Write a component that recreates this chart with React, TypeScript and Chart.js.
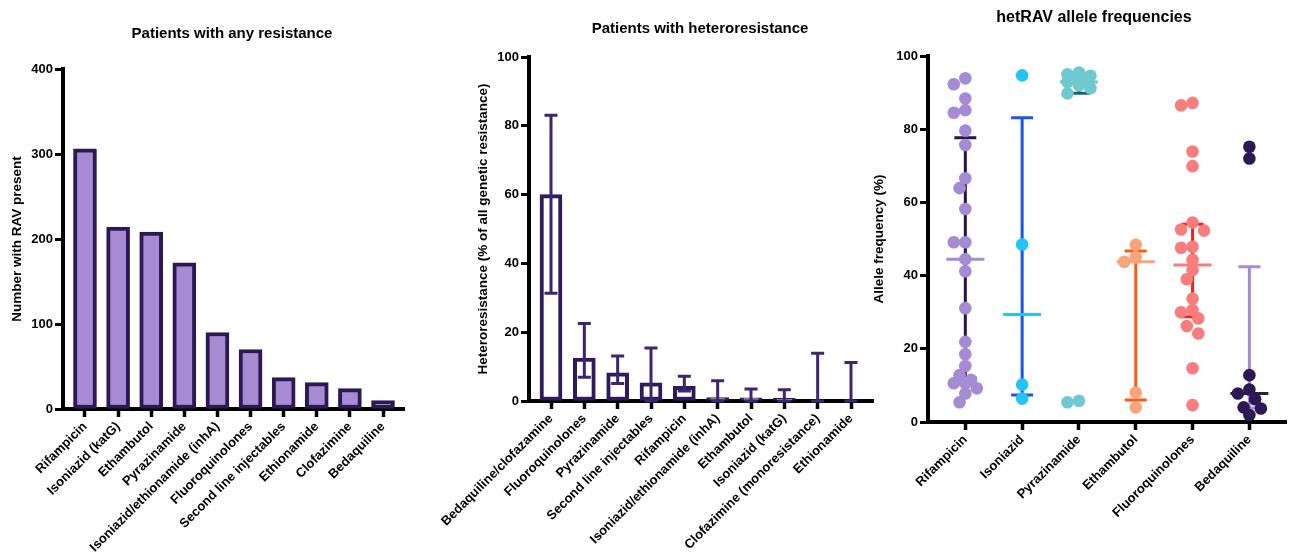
import React, { useEffect, useRef } from "react";
import { Chart, registerables } from "chart.js";

Chart.register(...registerables);

// ---------- Data ----------
const resistCats = [
  "Rifampicin",
  "Isoniazid (katG)",
  "Ethambutol",
  "Pyrazinamide",
  "Isoniazid/ethionamide (inhA)",
  "Fluoroquinolones",
  "Second line injectables",
  "Ethionamide",
  "Clofazimine",
  "Bedaquiline",
];
const resistCounts = [306, 214, 208, 172, 90, 70, 37, 31, 24, 10];
const resistTicks = [0, 100, 200, 300, 400];

const heteroCats = [
  "Bedaquiline/clofazamine",
  "Fluoroquinolones",
  "Pyrazinamide",
  "Second line injectables",
  "Rifampicin",
  "Isoniazid/ethionamide (inhA)",
  "Ethambutol",
  "Isoniazid (katG)",
  "Clofazimine (monoresistance)",
  "Ethionamide",
];
const heteroPct = [60, 12.5, 8.2, 5.3, 4.3, 1.0, 0.9, 0.8, 0, 0];
const heteroLow = [31.3, 6.9, 5.1, 0, 2.9, 0, 0, 0, 0, 0];
const heteroHigh = [83.1, 22.5, 13.1, 15.4, 7.2, 5.9, 3.5, 3.3, 13.9, 11.2];

const alleleCats = ["Rifampicin", "Isoniazid", "Pyrazinamide", "Ethambutol", "Fluoroquinolones", "Bedaquiline"];
const rifampicinAF = [93.9, 92.3, 88.4, 85.2, 84.5, 79.6, 75.7, 66.6, 63.9, 58.2, 49.1, 49.1, 44.5, 41.2, 31.1, 21.9, 18.5, 15.3, 12.8, 11.5, 10.6, 10.6, 9.2, 7.8, 5.4];
const isoniazidAF = [94.7, 48.5, 10.2, 6.4];
const pyrazinamideAF = [95.5, 95.0, 94.6, 94.2, 93.6, 92.9, 92.0, 91.2, 89.8, 5.8, 5.4];
const ethambutolAF = [48.4, 45.0, 43.8, 8.0, 4.0];
const fluoroquinolonesAF = [87.2, 86.5, 73.9, 69.9, 54.5, 52.6, 52.3, 47.9, 47.6, 44.3, 41.5, 39.0, 33.7, 30.6, 30.0, 28.3, 26.2, 24.2, 14.7, 4.6];
const bedaquilineAF = [75.2, 72.0, 12.8, 8.9, 7.8, 6.2, 4.0, 3.7, 1.9];
const alleleGroups = [rifampicinAF, isoniazidAF, pyrazinamideAF, ethambutolAF, fluoroquinolonesAF, bedaquilineAF];

// ---------- Styles ----------
const FONT = "'Liberation Sans', Arial, Helvetica, sans-serif";
const pointColors = ["#a48bd3", "#22c5f5", "#6fc9ce", "#f9a47b", "#f97d7d", "#2c1852"];
const errColors = ["#26154a", "#1a55e6", "#0b6a77", "#ff5a14", "#ff1a1a", "#a48bd3"];

function quantile(values: number[], p: number) {
  const s = [...values].sort((a, b) => a - b);
  const n = s.length;
  const pos = p * (n + 1);
  if (pos <= 1) return s[0];
  if (pos >= n) return s[n - 1];
  const lo = Math.floor(pos);
  const f = pos - lo;
  return s[lo - 1] + f * (s[lo] - s[lo - 1]);
}

function axisY(min: number, max: number, step: number, title: string, width: number, titlePad: number) {
  return {
    type: "linear",
    min,
    max,
    afterFit: (s: any) => {
      s.width = width;
    },
    ticks: { stepSize: step, color: "#000", padding: 2, font: { family: FONT, size: 13, weight: "bold" } },
    grid: { drawOnChartArea: false, drawTicks: true, tickLength: 8, tickWidth: 3, tickColor: "#000", color: "#000" },
    border: { display: true, color: "#000", width: 4 },
    title: {
      display: true,
      text: title,
      color: "#000",
      font: { family: FONT, size: 13.5, weight: "bold" },
      padding: { top: titlePad, bottom: 0 },
    },
  };
}

function axisX(cats: string[], min: number, max: number, height: number) {
  return {
    type: "linear",
    min,
    max,
    offset: false,
    afterFit: (s: any) => {
      s.height = height;
    },
    afterBuildTicks: (s: any) => {
      s.ticks = cats.map((_, i) => ({ value: i }));
    },
    ticks: {
      autoSkip: false,
      minRotation: 45,
      maxRotation: 45,
      padding: 2,
      color: "#000",
      font: { family: FONT, size: 13, weight: "bold" },
      callback: (v: any) => cats[v] ?? "",
    },
    grid: {
      offset: false,
      drawOnChartArea: false,
      drawTicks: true,
      tickLength: 8,
      tickWidth: 3.5,
      tickColor: "#000",
      color: "#000",
    },
    border: { display: true, color: "#000", width: 4 },
  };
}

const errorBarPlugin = {
  id: "heteroErrors",
  afterDatasetsDraw(chart: any) {
    const { ctx, scales } = chart;
    const xs = scales.x;
    const ys = scales.y;
    ctx.save();
    ctx.strokeStyle = "#3a2770";
    ctx.lineWidth = 3;
    ctx.lineCap = "butt";
    heteroHigh.forEach((hi, i) => {
      const x = xs.getPixelForValue(i);
      const yh = ys.getPixelForValue(hi);
      const yl = ys.getPixelForValue(heteroLow[i]);
      const cw = 6.5;
      ctx.beginPath();
      ctx.moveTo(x, yl);
      ctx.lineTo(x, yh);
      ctx.moveTo(x - cw, yh);
      ctx.lineTo(x + cw, yh);
      ctx.moveTo(x - cw, yl);
      ctx.lineTo(x + cw, yl);
      ctx.stroke();
    });
    ctx.restore();
  },
};

// Beeswarm layout: spreads overlapping points sideways in pixel space
const swarmPlugin = {
  id: "swarm",
  afterDatasetsUpdate(chart: any) {
    const step = 5.75;
    const minD = 10;
    const cands: number[] = [0, -step, step, -2 * step, 2 * step];
    chart.data.datasets.forEach((_: any, di: number) => {
      const meta = chart.getDatasetMeta(di);
      const els = meta.data;
      const order = els.map((_: any, i: number) => i).sort((a: number, b: number) => els[a].y - els[b].y);
      const placed: { x: number; y: number }[] = [];
      order.forEach((idx: number) => {
        const el = els[idx];
        const base = el.x;
        let chosen = base;
        let bestScore = -1;
        let found = false;
        for (const c of cands) {
          const x = base + c;
          let md = Infinity;
          placed.forEach((p) => {
            md = Math.min(md, Math.hypot(p.x - x, p.y - el.y));
          });
          if (md >= minD) {
            chosen = x;
            found = true;
            break;
          }
          if (md > bestScore) {
            bestScore = md;
            chosen = x;
          }
        }
        if (!found && bestScore < 0) chosen = base;
        el.x = chosen;
        placed.push({ x: chosen, y: el.y });
      });
    });
  },
};

const iqrPlugin = {
  id: "iqr",
  beforeDatasetsDraw(chart: any) {
    const { ctx, scales } = chart;
    const xs = scales.x;
    const ys = scales.y;
    ctx.save();
    ctx.lineWidth = 3;
    alleleGroups.forEach((g, i) => {
      const x = xs.getPixelForValue(i);
      const q1 = ys.getPixelForValue(quantile(g, 0.25));
      const q3 = ys.getPixelForValue(quantile(g, 0.75));
      const med = ys.getPixelForValue(quantile(g, 0.5));
      ctx.strokeStyle = errColors[i];
      ctx.beginPath();
      ctx.moveTo(x, q1);
      ctx.lineTo(x, q3);
      ctx.moveTo(x - 11, q1);
      ctx.lineTo(x + 11, q1);
      ctx.moveTo(x - 11, q3);
      ctx.lineTo(x + 11, q3);
      ctx.stroke();
      ctx.strokeStyle = pointColors[i];
      ctx.beginPath();
      ctx.moveTo(x - 19, med);
      ctx.lineTo(x + 19, med);
      ctx.stroke();
    });
    ctx.restore();
  },
};

function useChart(ref: React.RefObject<HTMLCanvasElement>, make: () => any) {
  useEffect(() => {
    if (!ref.current) return;
    const chart = new Chart(ref.current, make());
    return () => chart.destroy();
  }, []);
}

const baseOpts = {
  responsive: false,
  maintainAspectRatio: false,
  animation: false,
  plugins: { legend: { display: false }, tooltip: { enabled: false }, title: { display: false } },
};

function Panel1() {
  const ref = useRef<HTMLCanvasElement>(null);
  useChart(ref, () => ({
    type: "bar",
    data: {
      datasets: [
        {
          data: resistCounts.map((v, i) => ({ x: i, y: v })),
          backgroundColor: "#a68bd4",
          borderColor: "#2b1a52",
          borderWidth: 4,
          borderSkipped: false,
          barThickness: 23,
        },
      ],
    },
    options: {
      ...baseOpts,
      layout: { padding: { left: 0, right: 26, top: 69, bottom: 0 } },
      scales: {
        x: axisX(resistCats, -0.664, 9.634, 146),
        y: axisY(resistTicks[0], resistTicks[resistTicks.length - 1], 100, "Number with RAV present", 63, 9),
      },
    },
  }));
  return <canvas ref={ref} width={430} height={555} style={{ position: "absolute", left: 0, top: 0 }} />;
}

function Panel2() {
  const ref = useRef<HTMLCanvasElement>(null);
  useChart(ref, () => ({
    type: "bar",
    data: {
      datasets: [
        {
          data: heteroPct.map((v, i) => ({ x: i, y: v })),
          backgroundColor: "#ffffff",
          borderColor: "#2d1b5e",
          borderWidth: 4,
          borderSkipped: false,
          barThickness: 22,
        },
      ],
    },
    plugins: [errorBarPlugin],
    options: {
      ...baseOpts,
      layout: { padding: { left: 0, right: 7, top: 57, bottom: 0 } },
      scales: {
        x: axisX(heteroCats, -0.66, 9.66, 154),
        y: axisY(0, 100, 20, "Heteroresistance (% of all genetic resistance)", 99, 45),
      },
    },
  }));
  return <canvas ref={ref} width={450} height={555} style={{ position: "absolute", left: 430, top: 0 }} />;
}

function Panel3() {
  const ref = useRef<HTMLCanvasElement>(null);
  useChart(ref, () => ({
    type: "scatter",
    data: {
      datasets: alleleGroups.map((g, i) => ({
        data: g.map((v) => ({ x: i, y: v })),
        backgroundColor: pointColors[i],
        borderWidth: 0,
        pointRadius: 6.3,
      })),
    },
    plugins: [swarmPlugin, iqrPlugin],
    options: {
      ...baseOpts,
      layout: { padding: { left: 0, right: 0, top: 56, bottom: 0 } },
      scales: {
        x: axisX(alleleCats, -0.657, 5.657, 133),
        y: axisY(0, 100, 20, "Allele frequency (%)", 68, 11),
      },
    },
  }));
  return <canvas ref={ref} width={433} height={555} style={{ position: "absolute", left: 860, top: 0 }} />;
}

const titleStyle = (x: number, y: number, size: number): React.CSSProperties => ({
  position: "absolute",
  left: x,
  top: y,
  transform: "translate(-50%, -50%)",
  whiteSpace: "nowrap",
  fontFamily: FONT,
  fontWeight: "bold",
  fontSize: size,
  color: "#000",
});

export default function App() {
  return (
    <div style={{ position: "absolute", left: 0, top: 0, width: 1293, height: 555, background: "#fff", overflow: "hidden" }}>
      <Panel1 />
      <Panel2 />
      <Panel3 />
      <div style={titleStyle(232, 32, 15)}>Patients with any resistance</div>
      <div style={titleStyle(700, 27, 15)}>Patients with heteroresistance</div>
      <div style={titleStyle(1094, 17, 16)}>hetRAV allele frequencies</div>
    </div>
  );
}
